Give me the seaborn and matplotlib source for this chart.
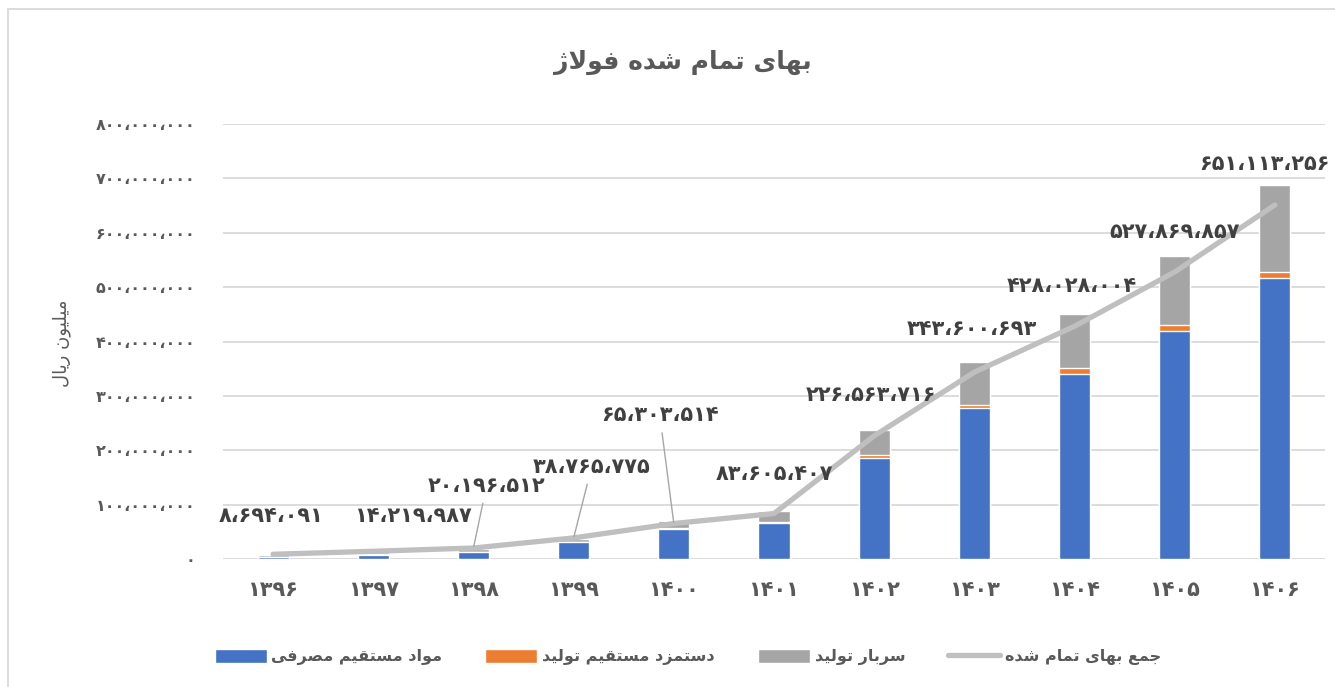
import matplotlib
matplotlib.use("Agg")

import matplotlib.pyplot as plt
import pandas as pd
import seaborn as sns
from matplotlib.lines import Line2D
from matplotlib.patches import Patch, Rectangle


# Values (million rial).
YEARS = ["1396", "1397", "1398", "1399", "1400", "1401",
         "1402", "1403", "1404", "1405", "1406"]
MATERIALS = [4.2, 7.9, 12.3, 30.7, 55.0, 66.3, 186.0, 278.0, 341.0, 420.0, 516.0]
LABOR = [0.3, 0.5, 0.7, 1.0, 1.5, 1.3, 4.5, 6.0, 9.5, 10.5, 12.0]
OVERHEAD = [3.5, 4.6, 5.0, 5.1, 14.0, 20.2, 46.5, 77.6, 100.5, 126.5, 159.5]
TOTAL_COST = [8694091, 14219987, 20196512, 38765775, 65303514, 83605407,
              226563716, 343600693, 428028004, 527869857, 651113256]
Y_TICKS = [0, 100_000_000, 200_000_000, 300_000_000, 400_000_000,
           500_000_000, 600_000_000, 700_000_000, 800_000_000]

TITLE = "بهای تمام شده فولاژ"
Y_LABEL = "میلیون ریال"
SERIES_NAMES = ["مواد مستقیم مصرفی", "دستمزد مستقیم تولید", "سربار تولید", "جمع بهای تمام شده"]

# Label offsets in pixels from each line point, and which ones get a leader line.
LABEL_OFFSETS = [(-2, 38), (40, 35), (13, 62), (18, 71), (-14, 108), (0, 40),
                 (-3, 41), (-3, 43), (-3, 40), (0, 40), (-10, 41)]
LEADERS = [False, False, True, True, True, False, False, False, False, False, False]

BLUE, ORANGE, GREY, LINE_GREY = "#4472C4", "#ED7D31", "#A5A5A5", "#BFBFBF"
TEXT = "#595959"


# matplotlib has no Arabic shaping, so pick presentation forms by hand.
FORMS = {
    "ا": "\uFE8D\uFE8E", "ب": "\uFE8F\uFE90\uFE91\uFE92",
    "ت": "\uFE95\uFE96\uFE97\uFE98", "ج": "\uFE9D\uFE9E\uFE9F\uFEA0",
    "د": "\uFEA9\uFEAA", "ر": "\uFEAD\uFEAE", "ز": "\uFEAF\uFEB0",
    "ژ": "\uFB8A\uFB8B", "س": "\uFEB1\uFEB2\uFEB3\uFEB4",
    "ش": "\uFEB5\uFEB6\uFEB7\uFEB8", "ص": "\uFEB9\uFEBA\uFEBB\uFEBC",
    "ع": "\uFEC9\uFECA\uFECB\uFECC", "ف": "\uFED1\uFED2\uFED3\uFED4",
    "ق": "\uFED5\uFED6\uFED7\uFED8", "ل": "\uFEDD\uFEDE\uFEDF\uFEE0",
    "م": "\uFEE1\uFEE2\uFEE3\uFEE4", "ن": "\uFEE5\uFEE6\uFEE7\uFEE8",
    "ه": "\uFEE9\uFEEA\uFEEB\uFEEC", "و": "\uFEED\uFEEE",
    "ی": "\uFEEF\uFEF0\uFEF3\uFEF4",
}


def fa(text: str) -> str:
    out = []
    joins = False
    i = 0
    while i < len(text):
        c = text[i]
        nxt = text[i + 1] if i + 1 < len(text) else None
        if c not in FORMS:
            out.append(c)
            joins = False
            i += 1
            continue
        if c == "ل" and nxt == "ا":
            out.append("\uFEFC" if joins else "\uFEFB")
            joins = False
            i += 2
            continue
        f = FORMS[c]
        to_next = len(f) == 4 and nxt in FORMS
        if joins and to_next:
            g = f[3]
        elif joins:
            g = f[1]
        elif to_next:
            g = f[2]
        else:
            g = f[0]
        out.append(g)
        joins = to_next
        i += 1
    return "".join(reversed(out))


DIGITS = str.maketrans("0123456789,", "۰۱۲۳۴۵۶۷۸۹،")


def fa_num(v) -> str:
    return f"{int(v):,}".translate(DIGITS)


def main() -> None:
    sns.set_theme(style="white")
    plt.rcParams["font.family"] = ["DejaVu Sans"]

    df = pd.DataFrame({
        "year": [y.translate(DIGITS) for y in YEARS],
        "materials": [v * 1e6 for v in MATERIALS],
        "labor": [v * 1e6 for v in LABOR],
        "overhead": [v * 1e6 for v in OVERHEAD],
        "total": TOTAL_COST,
    })
    df["stack2"] = df["materials"] + df["labor"]
    df["stack3"] = df["stack2"] + df["overhead"]

    fig = plt.figure(figsize=(13.35, 6.87), dpi=100)
    ax = fig.add_axes([223 / 1335, 1 - 559 / 687, 1102 / 1335, 435 / 687])

    # Stacked bars: draw the cumulative heights back to front.
    sns.barplot(data=df, x="year", y="stack3", color=GREY, saturation=1,
                width=0.31, ax=ax, zorder=2)
    sns.barplot(data=df, x="year", y="stack2", color=ORANGE, saturation=1,
                width=0.31, ax=ax, zorder=2)
    sns.barplot(data=df, x="year", y="materials", color=BLUE, saturation=1,
                width=0.31, ax=ax, zorder=2)
    sns.pointplot(data=df, x="year", y="total", color=LINE_GREY, markers="",
                  errorbar=None, linewidth=3.8, ax=ax, zorder=3)

    for i, (v, off, lead) in enumerate(zip(TOTAL_COST, LABEL_OFFSETS, LEADERS)):
        kw = {}
        if lead:
            kw["arrowprops"] = dict(arrowstyle="-", color="#A6A6A6", lw=1,
                                    shrinkA=3, shrinkB=1)
        ax.annotate(fa_num(v), xy=(i, v), xytext=off, textcoords="offset pixels",
                    ha="center", va="center", fontsize=15, fontweight="bold",
                    color="#404040", annotation_clip=False, zorder=4, **kw)

    ax.set_ylim(0, 800_000_000)
    ax.set_xlim(-0.5, len(YEARS) - 0.5)
    ax.set_yticks(Y_TICKS)
    ax.set_yticklabels([fa_num(t) for t in Y_TICKS])
    ax.yaxis.grid(True, color="#D9D9D9", lw=1.3, zorder=0)
    ax.set_axisbelow(True)
    for s in ax.spines.values():
        s.set_visible(False)
    ax.tick_params(axis="both", length=0, colors=TEXT)
    ax.tick_params(axis="y", pad=20, labelsize=11.5)
    ax.tick_params(axis="x", pad=15, labelsize=15)
    for lbl in ax.get_xticklabels() + ax.get_yticklabels():
        lbl.set_fontweight("bold")
    ax.set_xlabel("")
    ax.set_ylabel("")

    fig.text(683 / 1335, 1 - 62 / 687, fa(TITLE), ha="center", va="center",
             fontsize=18, fontweight="bold", color=TEXT)
    fig.text(62 / 1335, 1 - 343 / 687, fa(Y_LABEL), ha="center", va="center",
             rotation=90, fontsize=13, color=TEXT)

    handles = [
        Patch(facecolor=BLUE), Patch(facecolor=ORANGE), Patch(facecolor=GREY),
        Line2D([], [], color=LINE_GREY, lw=3.8),
    ]
    fig.legend(handles, [fa(n) for n in SERIES_NAMES], loc="center",
               bbox_to_anchor=(688 / 1335, 1 - 657 / 687), ncol=4, frameon=False,
               handlelength=3.25, handleheight=1.0, handletextpad=0.3,
               columnspacing=2.7, prop={"size": 11.5, "weight": "bold"},
               labelcolor=TEXT)

    # Chart area border, cropped at right and bottom like the reference.
    fig.patches.append(Rectangle((8 / 1335, -0.1), 1.2, 1 - 9 / 687 + 0.1,
                                 transform=fig.transFigure, fill=False,
                                 edgecolor="#D9D9D9", lw=1.3))

    fig.savefig("out.png", dpi=100)
    plt.close(fig)


if __name__ == "__main__":
    main()
